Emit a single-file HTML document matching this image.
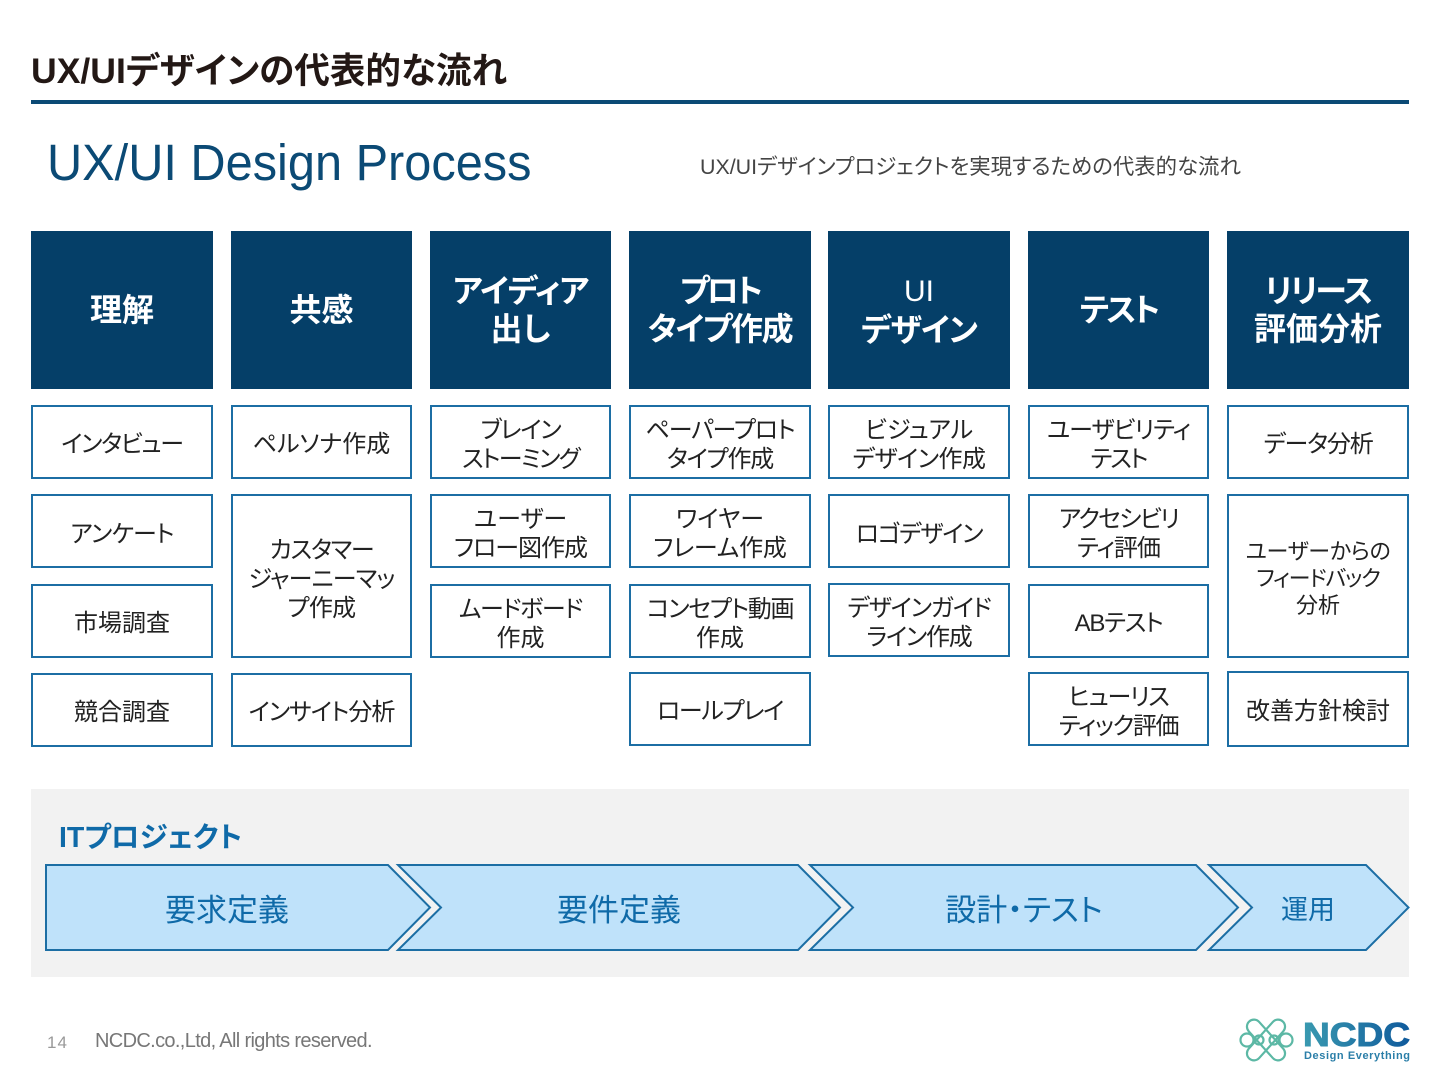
<!DOCTYPE html>
<html lang="ja"><head><meta charset="utf-8"><style>
html,body{margin:0;padding:0;background:#fff}
#p{position:relative;width:1440px;height:1080px;overflow:hidden;font-family:"Liberation Sans","Noto Sans CJK JP",sans-serif;font-feature-settings:"palt";background:#fff}
#p>div{position:absolute;box-sizing:border-box}
.h{background:#053f68;color:#fff;font-size:32px;font-weight:700;line-height:38px;display:flex;align-items:center;justify-content:center;text-align:center;top:231px;height:158px}
.b{border:2px solid #1c6ea4;padding-top:4px;color:#222;font-size:24px;line-height:29px;display:flex;align-items:center;justify-content:center;text-align:center;background:#fff;white-space:nowrap}
.b>div{position:relative;top:1px}
.a{top:889px;height:44px;line-height:44px;text-align:center;color:#0f6aa8;font-size:31px;white-space:nowrap}
</style></head><body><div id="p">
<div style="left:31px;top:46px;font-size:35.6px;font-weight:700;line-height:50px;color:#231815;white-space:nowrap">UX/UIデザインの代表的な流れ</div>
<div style="left:31px;top:100px;width:1378px;height:4px;background:#0b4a75"></div>
<div style="left:47px;top:131px;font-size:51px;line-height:64px;color:#0b4a75;white-space:nowrap;transform:scaleX(.955);transform-origin:0 50%">UX/UI Design Process</div>
<div style="left:700px;top:153px;font-size:21.4px;line-height:28px;color:#444;white-space:nowrap">UX/UIデザインプロジェクトを実現するための代表的な流れ</div>

<div class="h" style="left:31px;width:182px">理解</div>
<div class="h" style="left:231px;width:181px">共感</div>
<div class="h" style="left:430px;width:181px"><div><span style="letter-spacing:-1px">アイディア</span><br>出し</div></div>
<div class="h" style="left:629px;width:182px"><div><span style="letter-spacing:-3px">プロト</span><br><span style="letter-spacing:-1.4px">タイプ作成</span></div></div>
<div class="h" style="left:828px;width:182px"><div><span style="font-weight:400;font-size:30px">UI</span><br><span style="letter-spacing:-1px">デザイン</span></div></div>
<div class="h" style="left:1028px;width:181px;letter-spacing:-3px">テスト</div>
<div class="h" style="left:1227px;width:182px"><div><span style="letter-spacing:-2px">リリース</span><br>評価分析</div></div>

<div class="b" style="left:31px;top:405px;width:182px;height:74px;letter-spacing:-1.3px">インタビュー</div>
<div class="b" style="left:31px;top:494px;width:182px;height:74px;letter-spacing:-.8px;padding-top:6px">アンケート</div>
<div class="b" style="left:31px;top:584px;width:182px;height:74px">市場調査</div>
<div class="b" style="left:31px;top:673px;width:182px;height:74px;padding-top:5px">競合調査</div>

<div class="b" style="left:231px;top:405px;width:181px;height:74px">ペルソナ作成</div>
<div class="b" style="left:231px;top:494px;width:181px;height:164px"><div><span style="letter-spacing:-1.2px">カスタマー</span><br><span style="letter-spacing:-.8px">ジャーニーマッ</span><br><span style="letter-spacing:-.7px">プ作成</span></div></div>
<div class="b" style="left:231px;top:673px;width:181px;height:74px;letter-spacing:-1px;padding-top:5px">インサイト分析</div>

<div class="b" style="left:430px;top:405px;width:181px;height:74px"><div><span style="letter-spacing:-1.2px">ブレイン</span><br><span style="letter-spacing:-1.6px">ストーミング</span></div></div>
<div class="b" style="left:430px;top:494px;width:181px;height:74px"><div>ユーザー<br><span style="letter-spacing:-1px">フロー図作成</span></div></div>
<div class="b" style="left:430px;top:584px;width:181px;height:74px"><div><span style="letter-spacing:-1.3px">ムードボード</span><br>作成</div></div>

<div class="b" style="left:629px;top:405px;width:182px;height:74px"><div><span style="letter-spacing:-1.1px">ペーパープロト</span><br><span style="letter-spacing:-1.2px">タイプ作成</span></div></div>
<div class="b" style="left:629px;top:494px;width:182px;height:74px"><div>ワイヤー<br><span style="letter-spacing:-.2px">フレーム作成</span></div></div>
<div class="b" style="left:629px;top:584px;width:182px;height:74px"><div><span style="letter-spacing:-1.3px">コンセプト動画</span><br>作成</div></div>
<div class="b" style="left:629px;top:672px;width:182px;height:74px;letter-spacing:-1.3px;padding-top:5px">ロールプレイ</div>

<div class="b" style="left:828px;top:405px;width:182px;height:74px"><div>ビジュアル<br><span style="letter-spacing:-.5px">デザイン作成</span></div></div>
<div class="b" style="left:828px;top:494px;width:182px;height:74px;letter-spacing:-1.2px;padding-top:6px">ロゴデザイン</div>
<div class="b" style="left:828px;top:583px;width:182px;height:74px"><div><span style="letter-spacing:-1.1px">デザインガイド</span><br><span style="letter-spacing:-1.2px">ライン作成</span></div></div>

<div class="b" style="left:1028px;top:405px;width:181px;height:74px"><div><span style="letter-spacing:-1px">ユーザビリティ</span><br><span style="letter-spacing:-2px">テスト</span></div></div>
<div class="b" style="left:1028px;top:494px;width:181px;height:74px"><div><span style="letter-spacing:-1.7px">アクセシビリ</span><br><span style="letter-spacing:-1px">ティ評価</span></div></div>
<div class="b" style="left:1028px;top:584px;width:181px;height:74px;letter-spacing:-1.2px">ABテスト</div>
<div class="b" style="left:1028px;top:672px;width:181px;height:74px"><div><span style="letter-spacing:-1.3px">ヒューリス</span><br><span style="letter-spacing:-1.3px">ティック評価</span></div></div>

<div class="b" style="left:1227px;top:405px;width:182px;height:74px;letter-spacing:-1.2px">データ分析</div>
<div class="b" style="left:1227px;top:494px;width:182px;height:164px;font-size:22px;line-height:27px;padding-top:2px"><div><span style="letter-spacing:-.3px">ユーザーからの</span><br><span style="letter-spacing:-1.2px">フィードバック</span><br>分析</div></div>
<div class="b" style="left:1227px;top:671px;width:182px;height:76px;padding-top:5px">改善方針検討</div>

<div style="left:31px;top:789px;width:1378px;height:188px;background:#f2f2f2"></div>
<div style="left:59px;top:816px;font-size:28.5px;font-weight:700;line-height:44px;color:#0f6aa8;white-space:nowrap">ITプロジェクト</div>
<svg style="position:absolute;left:0;top:0" width="1440" height="1080" viewBox="0 0 1440 1080">
<g fill="#bfe2fa" stroke="#1c6ea4" stroke-width="2" stroke-linejoin="miter">
<path d="M46 865H388L430 907.500L388 950H46Z"/>
<path d="M398 865H798L840 907.500L798 950H398L441 907.500Z"/>
<path d="M810 865H1196L1238 907.500L1196 950H810L853 907.500Z"/>
<path d="M1209 865H1366L1408.500 907.500L1366 950H1209L1252 907.500Z"/>
</g>
<g fill="none" stroke-width="2.200" stroke="#5cb8a5">
<rect x="1259" y="1015" width="14" height="50" rx="7" transform="rotate(-42 1266 1040)"/>
<rect x="1259" y="1015" width="14" height="50" rx="7" transform="rotate(42 1266 1040)"/>
<circle cx="1247" cy="1040" r="6.500"/><circle cx="1286" cy="1040" r="6.500"/>
<circle cx="1259" cy="1040" r="4.500"/><circle cx="1274" cy="1040" r="4.500"/>
</g>
<defs><linearGradient id="g" x1="0" x2="1" y1="0" y2="0"><stop offset="0" stop-color="#3a9ab0"/><stop offset="1" stop-color="#0f5a9c"/></linearGradient></defs>
<text x="1303" y="1046" font-family="Liberation Sans" font-weight="700" font-size="33" textLength="107" lengthAdjust="spacingAndGlyphs" fill="url(#g)" stroke="url(#g)" stroke-width="1">NCDC</text>
<text x="1304" y="1059" font-family="Liberation Sans" font-weight="700" font-size="11" textLength="106" fill="#2a7ea8">Design Everything</text>
</svg>
<div class="a" style="left:46px;width:362px">要求定義</div>
<div class="a" style="left:438px;width:362px">要件定義</div>
<div class="a" style="left:843px;width:362px">設計・テスト</div>
<div class="a" style="left:1228px;width:160px;font-size:27px;top:888px">運用</div>
<div style="left:47px;top:1031px;font-size:17px;line-height:24px;color:#999;letter-spacing:1px">14</div>
<div style="left:95px;top:1027px;font-size:20px;line-height:28px;color:#777;white-space:nowrap;letter-spacing:-.65px">NCDC.co.,Ltd, All rights reserved.</div>
</div></body></html>
